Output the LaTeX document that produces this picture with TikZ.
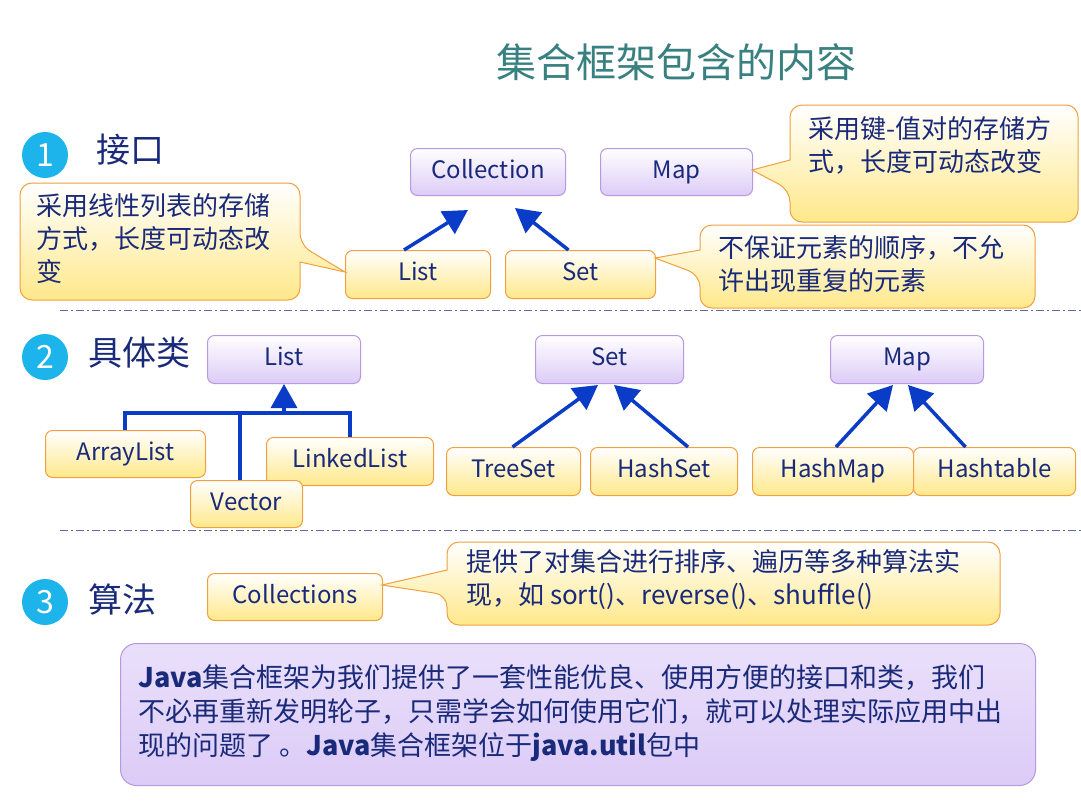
\documentclass[tikz,border=0pt]{standalone}
\usepackage{fontspec}
\setmainfont{Noto Sans CJK SC}
\usetikzlibrary{arrows.meta}
\definecolor{txt}{HTML}{1A2A7A}
\definecolor{arr}{HTML}{0A3CC8}
\definecolor{pb}{HTML}{B898E0}
\definecolor{pf}{HTML}{DCCBF7}
\definecolor{yb}{HTML}{F0A040}
\definecolor{yf}{HTML}{FFE88A}
\definecolor{cyanc}{HTML}{1CB4EA}
\tikzset{
 bx/.style={line width=1pt,rounded corners=7pt,top color=white,text=txt,font=\fontsize{24}{26}\selectfont,anchor=north west,inner sep=0pt,text height=17pt,text depth=5pt},
 pbox/.style={bx,draw=pb,bottom color=pf},
 ybox/.style={bx,draw=yb,bottom color=yf},
 call/.style={draw=yb,line width=1pt,top color=white,bottom color=yf},
 ctext/.style={text=txt,font=\fontsize{26}{33}\selectfont,anchor=north west,align=left,inner sep=0pt},
 ar/.style={draw=arr,line width=3.5pt,-{Stealth[length=24pt,width=26pt,inset=0pt]}},
 tl/.style={draw=arr,line width=3.5pt},
 num/.style={circle,fill=cyanc,text=white,minimum size=46pt,inner sep=0pt,font=\fontsize{32}{32}\selectfont},
 sec/.style={text=txt,font=\fontsize{34}{36}\selectfont,anchor=west},
 sep/.style={draw=txt!70,line width=1pt,dash pattern=on 8pt off 3pt on 2pt off 3pt}
}
\begin{document}
\begin{tikzpicture}[x=1pt,y=-1pt]
\path[use as bounding box,fill=white] (0,0) rectangle (1081,811);
\node[text=teal!55!gray,font=\fontsize{40}{42}\selectfont] (title) at (676,62) {集合框架包含的内容};
% section 1
\node[num] (n1) at (45,155) {1};
\node[sec] (s1) at (93,150) {接口};
\node[pbox,minimum width=155pt,minimum height=47pt] (coll) at (410,148) {Collection};
\node[pbox,minimum width=152pt,minimum height=47pt] (map1) at (600,148) {Map};
\node[ybox,minimum width=145pt,minimum height=48pt] (list1) at (345,250) {List};
\node[ybox,minimum width=150pt,minimum height=48pt] (set1) at (505,250) {Set};
\draw[ar] (list1.north)++(-14,0) coordinate (la) (la) -- (468,210) coordinate (lb);
\draw[ar] (set1.north)++(-12,0) coordinate (sa) (sa) -- (515,208) coordinate (sb);
% callouts
\path[call,rounded corners=12pt] (20,183) -- (300,183) -- (300,245) [sharp corners]-- (345,272) -- (300,262) [rounded corners=12pt]-- (300,300) -- (20,300) -- cycle;
\node[ctext] (c1) at (36,193) {采用线性列表的存储\\方式，长度可动态改\\变};
\path[call,rounded corners=12pt] (790,105) -- (1078,105) -- (1078,222) -- (790,222) -- (790,190) [sharp corners]-- (752,170) -- (790,160) [rounded corners=12pt]-- cycle;
\node[ctext] (c2) at (808,116) {采用键-值对的存储方\\式，长度可动态改变};
\path[call,rounded corners=12pt] (700,225) -- (1035,225) -- (1035,308) -- (700,308) -- (700,275) [sharp corners]-- (655,258) -- (700,250) [rounded corners=12pt]-- cycle;
\node[ctext] (c3) at (718,235) {不保证元素的顺序，不允\\许出现重复的元素};
\draw[sep] (60,310) -- (1081,310);
% section 2
\node[num] (n2) at (45,357) {2};
\node[sec] (s2) at (85,353) {具体类};
\node[pbox,minimum width=153pt,minimum height=48pt] (list2) at (207,335) {List};
\node[pbox,minimum width=148pt,minimum height=48pt] (set2) at (535,335) {Set};
\node[pbox,minimum width=153pt,minimum height=48pt] (map2) at (830,335) {Map};
\node[ybox,minimum width=160pt,minimum height=47pt] (al) at (45,430) {ArrayList};
\node[ybox,minimum width=167pt,minimum height=48pt] (ll) at (266,437) {LinkedList};
\node[ybox,minimum width=112pt,minimum height=47pt] (vec) at (190,480) {Vector};
\node[ybox,minimum width=134pt,minimum height=48pt] (ts) at (446,447) {TreeSet};
\node[ybox,minimum width=147pt,minimum height=48pt] (hs) at (590,447) {HashSet};
\node[ybox,minimum width=161pt,minimum height=48pt] (hm) at (752,447) {HashMap};
\node[ybox,minimum width=162pt,minimum height=48pt] (ht) at (913,447) {Hashtable};
\coordinate (j) at (284,413);
\draw[tl] (al.north -| 125,0) |- (j) -| (ll.north -| 350,0);
\draw[tl] (vec.north -| 240,0) -- (240,413);
\draw[ar] (j) -- (list2.south);
\draw[ar] (ts.north)++(-1,0) -- (598,385);
\draw[ar] (hs.north)++(24,0) -- (614,385);
\draw[ar] (hm.north)++(3,0) -- (893,385);
\draw[ar] (ht.north)++(-29,0) -- (908,385);
\draw[sep] (60,530) -- (1081,530);
% section 3
\node[num] (n3) at (45,602) {3};
\node[sec] (s3) at (85,600) {算法};
\node[ybox,minimum width=175pt,minimum height=47pt] (colls) at (207,573) {Collections};
\path[call,rounded corners=12pt] (447,542) -- (1000,542) -- (1000,625) -- (447,625) -- (447,595) [sharp corners]-- (382,585) -- (447,570) [rounded corners=12pt]-- cycle;
\node[ctext] (c4) at (466,549) {提供了对集合进行排序、遍历等多种算法实\\现，如 sort()、reverse()、shuffle()};
\node[draw=pb,line width=1pt,rounded corners=16pt,top color=white!40!pf,bottom color=pf,minimum width=915pt,minimum height=142pt,anchor=north west] (sum) at (120,643) {};
\node[text=txt,font=\fontsize{27}{34}\selectfont,align=left,anchor=north west,inner sep=0pt] (sumt) at (138,664) {\textbf{Java}集合框架为我们提供了一套性能优良、使用方便的接口和类，我们\\不必再重新发明轮子，只需学会如何使用它们，就可以处理实际应用中出\\现的问题了 。\textbf{Java}集合框架位于\textbf{java.util}包中};
\end{tikzpicture}
\end{document}
